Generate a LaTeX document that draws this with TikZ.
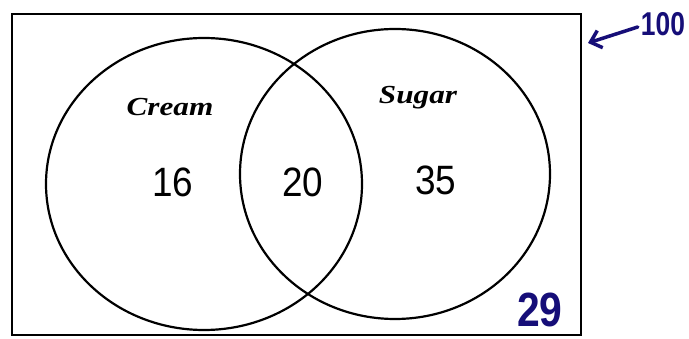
\documentclass[tikz,border=0pt]{standalone}
\usepackage{fontspec}
\setmainfont{Liberation Serif}
\newfontfamily\numfont{Liberation Sans}
\usetikzlibrary{arrows.meta}
\definecolor{ink}{RGB}{22,14,120}
\tikzset{
  frame/.style={draw=black, line width=2.2pt},
  setline/.style={draw=black, line width=2.2pt},
  setname/.style={inner sep=0pt, font=\bfseries\itshape\fontsize{26}{26}\selectfont},
  count/.style={inner sep=0pt, font=\numfont\fontsize{41}{41}\selectfont},
  hand/.style={inner sep=0pt, text=ink, font=\numfont\bfseries},
}
\begin{document}
\begin{tikzpicture}[x=1pt,y=-1pt]
\useasboundingbox (0,0) rectangle (689,339);
\fill[white] (0,0) rectangle (689,339);
\draw[frame] (12,14) rectangle (581,335);
\draw[setline] (204,184) ellipse [x radius=158, y radius=146];
\draw[setline] (395,174) ellipse [x radius=155, y radius=145];
\node[setname] (cream) at (170,107) {\scalebox{1.2}[1]{Cream}};
\node[setname] (sugar) at (418,98) {\scalebox{1.2}[1]{Sugar}};
\node[count] (a) at (173,182) {\scalebox{0.9}[1]{16}};
\node[count] (b) at (303,182) {\scalebox{0.9}[1]{20}};
\node[count] (c) at (436,180) {\scalebox{0.9}[1]{35}};
\node[hand, font=\numfont\bfseries\fontsize{48}{48}\selectfont] (out) at (540,310) {\scalebox{0.85}[1]{29}};
\node[hand, font=\numfont\bfseries\fontsize{33}{33}\selectfont] (total) at (663,24) {\scalebox{0.8}[1]{100}};
\coordinate (tip) at (588,43);
\draw[ink, line width=3.5pt, line cap=round, -{Straight Barb[length=10pt,width=18pt,line width=3.5pt]}] (total.west) ++(-3,3) coordinate (tail) -- (tip);
\end{tikzpicture}
\end{document}
